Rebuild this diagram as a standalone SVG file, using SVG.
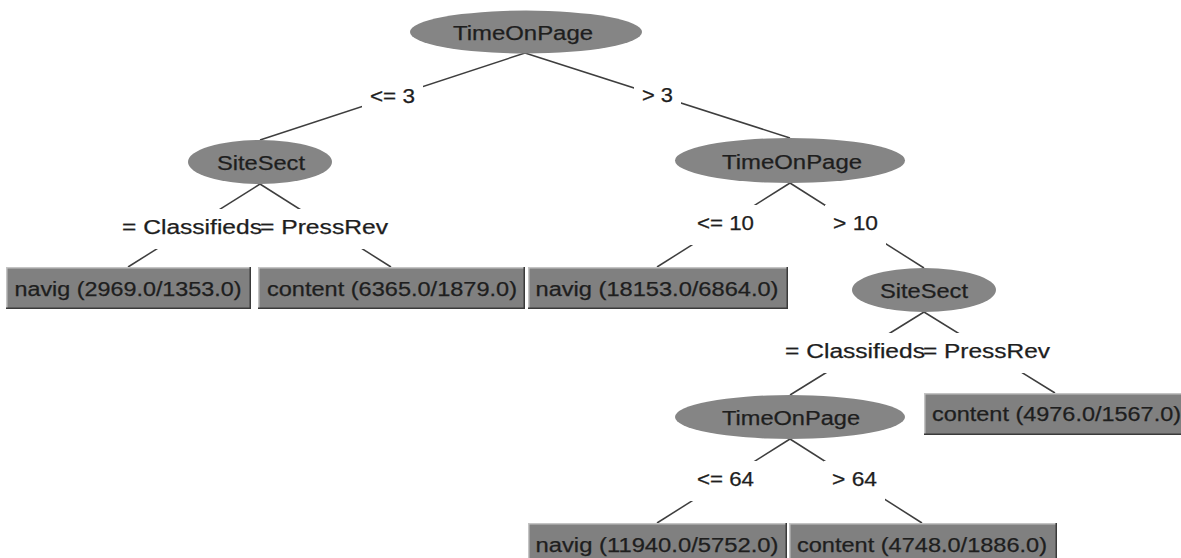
<svg xmlns="http://www.w3.org/2000/svg" width="1181" height="558" viewBox="0 0 1181 558">
  <style>
    .edge { stroke: #3e3e3e; stroke-width: 1.5; fill: none; }
    .node ellipse { fill: #858585; }
    .leaf rect { fill: #808080; }
    .leaf .hi { stroke: #c4c4c4; stroke-width: 1.5; fill: none; }
    .leaf .lo { stroke: #3a3a3a; stroke-width: 1.5; fill: none; }
    text { font-family: "Liberation Sans", Arial, sans-serif; font-size: 19.5px; fill: #1e1e1e; stroke: #1e1e1e; stroke-width: 0.25; }
    .lbg { fill: #ffffff; }
  </style>

  <rect x="0" y="0" width="1181" height="558" fill="#ffffff"/>

  <!-- connectors: straight parent-to-child lines, labels sit on white patches -->
  <g id="connectors">
    <line class="edge" x1="525" y1="53" x2="260" y2="140"/>
    <line class="edge" x1="525" y1="53" x2="790" y2="138"/>
    <line class="edge" x1="260" y1="184" x2="128" y2="267"/>
    <line class="edge" x1="260" y1="184" x2="391" y2="267"/>
    <line class="edge" x1="790" y1="183" x2="657" y2="267"/>
    <line class="edge" x1="790" y1="183" x2="924" y2="268"/>
    <line class="edge" x1="924" y1="312" x2="790" y2="395"/>
    <line class="edge" x1="924" y1="312" x2="1055" y2="393"/>
    <line class="edge" x1="790" y1="439" x2="657" y2="523"/>
    <line class="edge" x1="790" y1="439" x2="922" y2="523"/>

    <!-- label backgrounds -->
    <rect class="lbg" x="362" y="78" width="61" height="40"/>
    <rect class="lbg" x="634" y="77" width="47" height="40"/>
    <rect class="lbg" x="114" y="209" width="156" height="40"/>
    <rect class="lbg" x="252" y="209" width="144" height="40"/>
    <rect class="lbg" x="689" y="205" width="73" height="40"/>
    <rect class="lbg" x="825" y="205" width="61" height="40"/>
    <rect class="lbg" x="777" y="333" width="156" height="40"/>
    <rect class="lbg" x="915" y="333" width="143" height="40"/>
    <rect class="lbg" x="689" y="461" width="73" height="40"/>
    <rect class="lbg" x="824" y="461" width="61" height="40"/>

    <!-- edge labels -->
    <text x="392.5" y="103" text-anchor="middle" textLength="45" lengthAdjust="spacingAndGlyphs">&lt;= 3</text>
    <text x="657.5" y="102" text-anchor="middle" textLength="31" lengthAdjust="spacingAndGlyphs">&gt; 3</text>
    <text x="192" y="234" text-anchor="middle" textLength="140" lengthAdjust="spacingAndGlyphs">= Classifieds</text>
    <text x="324" y="234" text-anchor="middle" textLength="128" lengthAdjust="spacingAndGlyphs">= PressRev</text>
    <text x="725.5" y="230" text-anchor="middle" textLength="57" lengthAdjust="spacingAndGlyphs">&lt;= 10</text>
    <text x="855.5" y="230" text-anchor="middle" textLength="45" lengthAdjust="spacingAndGlyphs">&gt; 10</text>
    <text x="855" y="358" text-anchor="middle" textLength="140" lengthAdjust="spacingAndGlyphs">= Classifieds</text>
    <text x="986.5" y="358" text-anchor="middle" textLength="127" lengthAdjust="spacingAndGlyphs">= PressRev</text>
    <text x="725.5" y="486" text-anchor="middle" textLength="57" lengthAdjust="spacingAndGlyphs">&lt;= 64</text>
    <text x="854.5" y="486" text-anchor="middle" textLength="45" lengthAdjust="spacingAndGlyphs">&gt; 64</text>
  </g>

  <!-- decision nodes -->
  <g id="n-root" class="node">
    <ellipse cx="526" cy="32" rx="116" ry="21.5"/>
    <text x="523" y="40" text-anchor="middle" textLength="140" lengthAdjust="spacingAndGlyphs">TimeOnPage</text>
  </g>
  <g id="n-sitesect-1" class="node">
    <ellipse cx="260" cy="162" rx="72" ry="22"/>
    <text x="261" y="170" text-anchor="middle" textLength="88" lengthAdjust="spacingAndGlyphs">SiteSect</text>
  </g>
  <g id="n-time-2" class="node">
    <ellipse cx="790" cy="160.5" rx="115" ry="22.5"/>
    <text x="792" y="169" text-anchor="middle" textLength="140" lengthAdjust="spacingAndGlyphs">TimeOnPage</text>
  </g>
  <g id="n-sitesect-2" class="node">
    <ellipse cx="924" cy="290" rx="72" ry="22"/>
    <text x="924" y="298" text-anchor="middle" textLength="88" lengthAdjust="spacingAndGlyphs">SiteSect</text>
  </g>
  <g id="n-time-3" class="node">
    <ellipse cx="790" cy="417" rx="115" ry="22"/>
    <text x="791" y="425" text-anchor="middle" textLength="138" lengthAdjust="spacingAndGlyphs">TimeOnPage</text>
  </g>

  <!-- leaves -->
  <g id="leaf-navig-1" class="leaf">
    <rect x="6" y="267" width="244" height="41"/>
    <path class="hi" d="M6.75 308 V267.75 H250"/>
    <path class="lo" d="M6 308.25 H250.25 V267"/>
    <text x="128" y="296" text-anchor="middle" textLength="227" lengthAdjust="spacingAndGlyphs">navig (2969.0/1353.0)</text>
  </g>
  <g id="leaf-content-1" class="leaf">
    <rect x="258" y="267" width="266" height="41"/>
    <path class="hi" d="M258.75 308 V267.75 H524"/>
    <path class="lo" d="M258 308.25 H524.25 V267"/>
    <text x="392" y="296" text-anchor="middle" textLength="250" lengthAdjust="spacingAndGlyphs">content (6365.0/1879.0)</text>
  </g>
  <g id="leaf-navig-2" class="leaf">
    <rect x="528" y="267" width="259" height="41"/>
    <path class="hi" d="M528.75 308 V267.75 H787"/>
    <path class="lo" d="M528 308.25 H787.25 V267"/>
    <text x="657" y="296" text-anchor="middle" textLength="243" lengthAdjust="spacingAndGlyphs">navig (18153.0/6864.0)</text>
  </g>
  <g id="leaf-content-2" class="leaf">
    <rect x="924" y="393" width="262" height="41"/>
    <path class="hi" d="M924.75 434 V393.75 H1186"/>
    <path class="lo" d="M924 434.25 H1186"/>
    <text x="932" y="421" textLength="249" lengthAdjust="spacingAndGlyphs">content (4976.0/1567.0)</text>
  </g>
  <g id="leaf-navig-3" class="leaf">
    <rect x="528" y="523" width="258" height="40"/>
    <path class="hi" d="M528.75 563 V523.75 H786"/>
    <path class="lo" d="M786.25 523 V563"/>
    <text x="657" y="552" text-anchor="middle" textLength="243" lengthAdjust="spacingAndGlyphs">navig (11940.0/5752.0)</text>
  </g>
  <g id="leaf-content-3" class="leaf">
    <rect x="789" y="523" width="267" height="40"/>
    <path class="hi" d="M789.75 563 V523.75 H1056"/>
    <path class="lo" d="M1056.25 523 V563"/>
    <text x="922" y="552" text-anchor="middle" textLength="250" lengthAdjust="spacingAndGlyphs">content (4748.0/1886.0)</text>
  </g>
</svg>
